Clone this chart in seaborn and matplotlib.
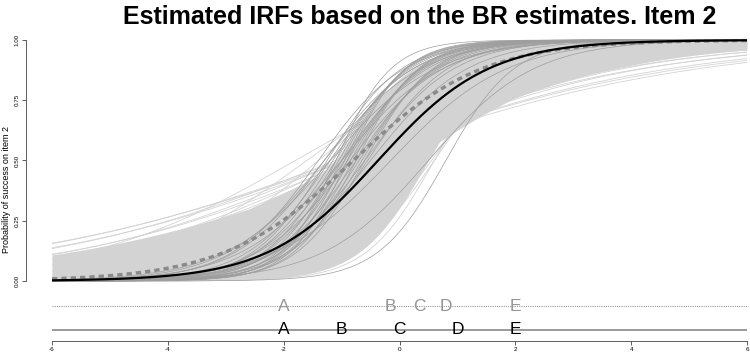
import numpy as np
import pandas as pd
import matplotlib
matplotlib.use("Agg")
import matplotlib.pyplot as plt
import seaborn as sns

# ---------------- data ----------------
title = "Estimated IRFs based on the BR estimates. Item 2"
y_label = "Probability of success on item 2"
x_ticks = [-6, -4, -2, 0, 2, 4, 6]
x_tick_labels = ["-6", "-4", "-2", "0", "2", "4", "6"]
y_ticks = [0.0, 0.25, 0.5, 0.75, 1.0]
y_tick_labels = ["0.00", "0.25", "0.50", "0.75", "1.00"]

# BR estimate of item 2 (slope, location) - solid black curve
br_slope, br_loc = 1.05, -0.37
# mean of the bootstrap curves - dashed gray curve
mean_slope, mean_loc = 0.90, -0.80

# light-gray individual bootstrap curves (slope, location)
light_slopes = [0.33, 0.34, 0.36, 0.38, 0.40, 0.42, 0.44, 0.46, 0.48, 0.50,
                0.55, 0.60, 0.65, 0.70, 0.75, 0.80, 0.85, 0.90, 0.95, 1.00,
                1.10, 1.20, 1.30, 1.40, 1.20, 1.30, 1.10, 0.90, 0.80, 0.70,
                1.50, 1.60, 1.70]
light_locs = [-0.9, -1.0, -0.9, -1.1, -0.8, -1.0, -0.7, -0.9, -0.6, -0.8,
              -1.8, -0.6, -0.3, -0.5, -0.2, 0.0, -0.4, 0.2, -0.1, 0.3,
              0.4, 0.5, 0.55, 0.6, -0.6, -0.8, -1.0, -1.2, -1.4, -1.6,
              0.45, 0.5, 0.6]

# curves bounding the dense light-gray band
band_upper_slopes = [0.37, 0.50, 0.90, 1.50]
band_upper_locs = [-0.30, -0.90, -1.10, -1.10]
band_lower_slopes = [1.67, 0.64, 0.50]
band_lower_locs = [0.50, 0.20, -0.30]

# medium-gray bootstrap curves (slope, location)
medium_slopes = [1.30, 1.40, 1.50, 1.60, 1.70, 1.80, 1.90, 2.00, 1.35, 1.45,
                 1.55, 1.65, 1.75, 1.85, 1.25, 1.40, 1.50, 1.60, 1.70, 1.30,
                 1.45, 1.20, 1.55, 1.35, 2.10, 1.10, 1.15, 1.20, 1.00, 1.10,
                 1.70]
medium_locs = [-1.30, -1.20, -1.15, -1.10, -1.05, -1.00, -0.95, -0.90, -1.00, -0.95,
               -0.90, -0.85, -0.80, -0.75, -0.85, -0.75, -0.70, -0.65, -0.60, -0.60,
               -0.55, -0.50, -1.25, -1.40, -1.10, -1.20, -1.00, -1.30, -0.15, 0.50,
               0.80]

letters = ["A", "B", "C", "D", "E"]
letters_boot_pos = [-2.0, -0.15, 0.35, 0.8, 2.0]
letters_br_pos = [-2.0, -1.0, 0.0, 1.0, 2.0]

# ---------------- helpers ----------------
theta = np.linspace(-6, 6, 400)


def irf(a, b):
    return 1.0 / (1.0 + np.exp(-a * (theta - b)))


def long_frame(slopes, locs):
    rows = []
    for i, (a, b) in enumerate(zip(slopes, locs)):
        rows.append(pd.DataFrame({"theta": theta, "p": irf(a, b), "unit": i}))
    return pd.concat(rows, ignore_index=True)


sns.set_theme(style="white")
plt.rcParams["font.family"] = ["Liberation Sans", "DejaVu Sans"]
plt.rcParams["axes.unicode_minus"] = False
plt.rcParams["text.color"] = "black"
plt.rcParams["axes.labelcolor"] = "black"
plt.rcParams["xtick.color"] = "black"
plt.rcParams["ytick.color"] = "black"

fig = plt.figure(figsize=(7.5, 3.6), dpi=100)
ax = fig.add_axes([52 / 750, 19 / 360, 695 / 750, 303 / 360])

# dense band
upper = np.max([irf(a, b) for a, b in zip(band_upper_slopes, band_upper_locs)], axis=0)
lower = np.min([irf(a, b) for a, b in zip(band_lower_slopes, band_lower_locs)], axis=0)
ax.fill_between(theta, lower, upper, color="#d3d3d3", lw=0, zorder=1)

light_df = long_frame(light_slopes, light_locs)
sns.lineplot(data=light_df, x="theta", y="p", units="unit", estimator=None,
             color="#d3d3d3", lw=0.6, ax=ax, legend=False, zorder=2)

medium_df = long_frame(medium_slopes, medium_locs)
sns.lineplot(data=medium_df, x="theta", y="p", units="unit", estimator=None,
             color="#9e9e9e", lw=0.5, ax=ax, legend=False, zorder=3)

mean_df = pd.DataFrame({"theta": theta, "p": irf(mean_slope, mean_loc)})
sns.lineplot(data=mean_df, x="theta", y="p", color="#8a8a8a", lw=2.4,
             ax=ax, legend=False, zorder=4)
ax.lines[-1].set_dashes((1.6, 1.2))

br_df = pd.DataFrame({"theta": theta, "p": irf(br_slope, br_loc)})
sns.lineplot(data=br_df, x="theta", y="p", color="black", lw=1.6,
             ax=ax, legend=False, zorder=5)

# letter lines
y_boot, y_br = -0.104, -0.203
ax.axhline(y_boot, color="#9a9a9a", lw=0.8, ls=(0, (1, 1)), zorder=1)
ax.axhline(y_br, color="#9a9a9a", lw=1.4, zorder=1)
for L, xp in zip(letters, letters_boot_pos):
    ax.text(xp, y_boot, L, ha="center", va="center", fontsize=12.5,
            color="#959595", zorder=6)
for L, xp in zip(letters, letters_br_pos):
    ax.text(xp, y_br, L, ha="center", va="center", fontsize=12.5,
            color="black", zorder=6)

ax.set_xlim(-6, 6)
ax.set_ylim(-0.249, 1.0083)

for s in ["top", "right"]:
    ax.spines[s].set_visible(False)
ax.spines["left"].set_position(("outward", 18.7))
ax.spines["left"].set_bounds(0, 1)
ax.spines["bottom"].set_bounds(-6, 6)
for s in ["left", "bottom"]:
    ax.spines[s].set_color("#444444")
    ax.spines[s].set_linewidth(0.6)

ax.set_xticks(x_ticks)
ax.set_xticklabels(x_tick_labels, fontsize=4.5)
ax.set_yticks(y_ticks)
ax.set_yticklabels(y_tick_labels, fontsize=4.5, rotation=90, va="center")
ax.tick_params(axis="both", length=3, width=0.6, color="#444444", pad=1.5,
               bottom=True, left=True)
ax.set_xlabel("")
ax.set_ylabel(y_label, fontsize=6.5, labelpad=3)

fig.text(420 / 750, 1 - 17 / 360, title, ha="center", va="center",
         fontsize=18, fontweight="bold", color="black")

fig.savefig("out.png", dpi=100)
